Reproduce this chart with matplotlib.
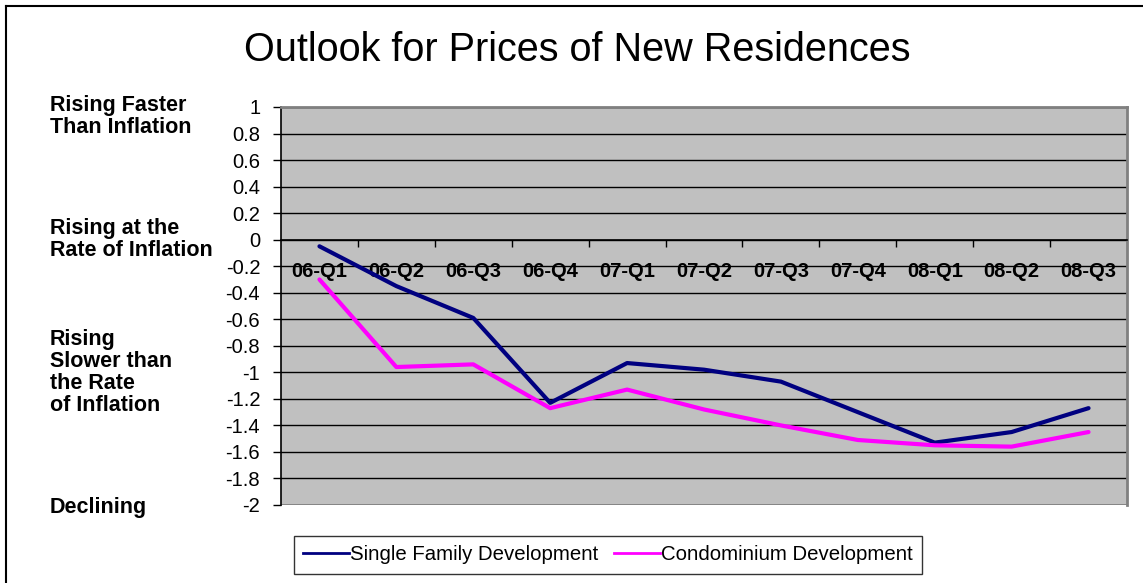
import matplotlib.pyplot as plt
from matplotlib.lines import Line2D
import numpy as np

plt.rcParams['font.family'] = ['Liberation Sans', 'DejaVu Sans']

quarters = ['06-Q1', '06-Q2', '06-Q3', '06-Q4', '07-Q1', '07-Q2',
            '07-Q3', '07-Q4', '08-Q1', '08-Q2', '08-Q3']
single_family = [-0.05, -0.35, -0.59, -1.23, -0.93, -0.98,
                 -1.07, -1.30, -1.53, -1.45, -1.27]
condominium = [-0.30, -0.96, -0.94, -1.27, -1.13, -1.28,
               -1.40, -1.51, -1.55, -1.56, -1.45]
y_ticks = np.round(np.arange(-2, 1.01, 0.2), 1) + 0.0
side_labels = ['Rising Faster\nThan Inflation',
               'Rising at the\nRate of Inflation',
               'Rising\nSlower than\nthe Rate\nof Inflation',
               'Declining']
side_label_levels = [0.93, 0.0, -1.0, -2.02]

W, H = 1143, 583
fig = plt.figure(figsize=(W / 100, H / 100), dpi=100)
ax = fig.add_axes([281 / W, 1 - 505 / H, (1127 - 281) / W, (505 - 107) / H])

x = np.arange(len(quarters))
navy = '#000080'
pink = '#FF00FF'
ax.plot(x, single_family, color=navy, lw=3.0, solid_capstyle='round', zorder=3)
ax.plot(x, condominium, color=pink, lw=3.0, solid_capstyle='round', zorder=3)

ax.set_facecolor('#C0C0C0')
ax.set_xlim(-0.5, len(quarters) - 0.5)
ax.set_ylim(-2, 1)

# horizontal grid
for v in y_ticks[1:]:
    ax.axhline(v, color='black', lw=1.0, zorder=1)
ax.axhline(-2, color='#808080', lw=2.0, zorder=2)

for s in ['top', 'right']:
    ax.spines[s].set_color('#808080')
    ax.spines[s].set_linewidth(2.0)
ax.spines['left'].set_color('black')
ax.spines['left'].set_linewidth(1.2)
ax.spines['bottom'].set_position(('data', 0))
ax.spines['bottom'].set_color('black')
ax.spines['bottom'].set_linewidth(1.2)

ax.set_yticks(y_ticks)
ax.set_yticklabels([f'{v:g}' for v in y_ticks])
ax.tick_params(axis='y', direction='out', length=6, width=1, pad=9,
               labelsize=14.5)

ax.set_xticks(x[:-1] + 0.5)
ax.set_xticks(x, minor=True)
ax.set_xticklabels([], minor=False)
ax.set_xticklabels(quarters, minor=True, fontweight='bold')
ax.tick_params(axis='x', which='major', direction='out', length=5, width=1)
ax.tick_params(axis='x', which='minor', length=0, pad=16, labelsize=14.5)

fig.text(577 / W, 1 - 50 / H, 'Outlook for Prices of New Residences',
         ha='center', va='center', fontsize=28.5)

for text, yv in zip(side_labels, side_label_levels):
    ax.text(-0.273, yv, text, transform=ax.get_yaxis_transform(),
            ha='left', va='center', fontsize=15.5, fontweight='bold',
            linespacing=1.07)

handles = [Line2D([], [], color=navy, lw=2),
           Line2D([], [], color=pink, lw=2)]
leg = fig.legend(handles, ['Single Family Development', 'Condominium Development'],
                 loc='center', bbox_to_anchor=(608 / W, 1 - 555 / H), ncol=2,
                 fontsize=14.7, frameon=True, fancybox=False, edgecolor='black',
                 handlelength=2.25, handletextpad=0.05, columnspacing=0.75,
                 borderpad=0.45, borderaxespad=0)
leg.get_frame().set_linewidth(1.0)

# outer chart border (left and top only are visible)
fig.add_artist(Line2D([6 / W, 6 / W], [0, 1 - 6 / H], color='black', lw=1.5))
fig.add_artist(Line2D([6 / W, 1], [1 - 6 / H, 1 - 6 / H], color='black', lw=1.5))

fig.savefig('out.png', dpi=100)
